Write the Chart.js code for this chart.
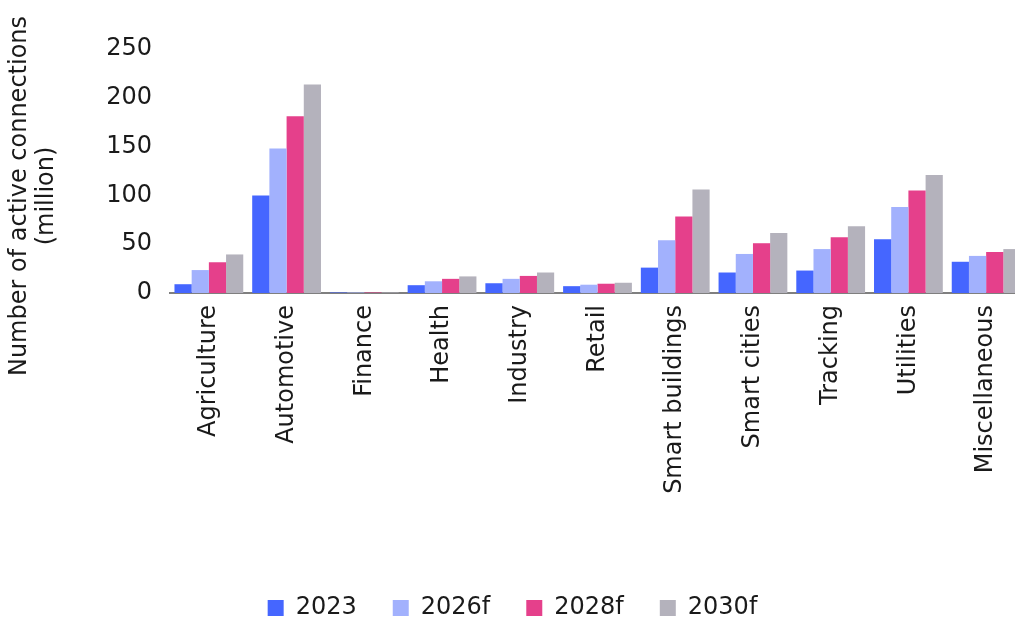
<!DOCTYPE html>
<html>
<head>
<meta charset="utf-8">
<script src="https://cdn.jsdelivr.net/npm/chart.js@4/dist/chart.umd.min.js"></script>
<style>
  html, body { margin: 0; padding: 0; background: #fff; overflow: hidden; }
  #wrap { width: 1025px; height: 630px; }
</style>
</head>
<body>
<div id="wrap"><canvas id="grafico"></canvas></div>
<script>
var categorias = ['Agriculture', 'Automotive', 'Finance', 'Health', 'Industry', 'Retail',
    'Smart buildings', 'Smart cities', 'Tracking', 'Utilities', 'Miscellaneous'];
var series = ['2023', '2026f', '2028f', '2030f'];
var valores2023 = [9, 100, 0.5, 8, 10, 7, 26, 21, 23, 55, 32];
var valores2026 = [23.5, 148, 0.5, 12, 14.5, 8.5, 54, 40, 45, 88, 38];
var valores2028 = [31.5, 181, 0.5, 14.5, 17.5, 9.5, 78.5, 51, 57, 105, 42];
var valores2030 = [39.5, 213.5, 0.5, 17, 21, 10.5, 106, 61.5, 68.5, 121, 45];
var colores = ['#4566ff', '#a2b1fd', '#e5408b', '#b4b2bc'];
var ticksY = [0, 50, 100, 150, 200, 250];

var fuente = 'DejaVu Sans';
var tam = 24;

// titulo del eje y dibujado a mano (dos lineas, rotado)
var tituloY = {
    id: 'tituloY',
    afterDraw: function (chart) {
        var c = chart.ctx;
        c.save();
        c.fillStyle = '#1a1a1a';
        c.font = tam + 'px "' + fuente + '"';
        c.textAlign = 'center';
        c.textBaseline = 'middle';
        c.translate(20, 196);
        c.rotate(-Math.PI / 2);
        c.fillText('Number of active connections', 0, 0);
        c.fillText('(million)', 0, 27);
        c.restore();
    }
};

var datos = [valores2023, valores2026, valores2028, valores2030];

ctx = document.getElementById('grafico').getContext('2d');
myChart = new Chart(ctx, {
    type: 'bar',
    data: {
        labels: categorias,
        datasets: series.map(function (s, i) {
            return {
                label: s,
                data: datos[i],
                backgroundColor: colores[i],
                borderWidth: 0,
                categoryPercentage: 0.885,
                barPercentage: 1
            };
        })
    },
    options: {
        responsive: true,
        maintainAspectRatio: false,
        animation: false,
        layout: { padding: { top: 49, left: 0, right: 0, bottom: 0 } },
        plugins: {
            tooltip: { enabled: false },
            legend: {
                position: 'bottom',
                labels: {
                    font: { family: fuente, size: tam },
                    color: '#1a1a1a',
                    boxWidth: 16,
                    boxHeight: 16,
                    padding: 36
                }
            }
        },
        scales: {
            x: {
                grid: { display: false },
                border: { display: true, color: '#7f7f7f', width: 2 },
                ticks: {
                    font: { family: fuente, size: tam },
                    color: '#1a1a1a',
                    minRotation: 90,
                    maxRotation: 90,
                    autoSkip: false,
                    padding: 4
                },
                afterFit: function (s) { s.height = 267; }
            },
            y: {
                min: 0,
                max: 250,
                grid: { display: false },
                border: { display: false },
                afterBuildTicks: function (s) {
                    s.ticks = ticksY.map(function (v) { return { value: v }; });
                },
                ticks: {
                    font: { family: fuente, size: tam },
                    color: '#1a1a1a',
                    padding: 10
                },
                afterFit: function (s) { s.width = 170; }
            }
        }
    },
    plugins: [tituloY]
});
</script>
</body>
</html>
